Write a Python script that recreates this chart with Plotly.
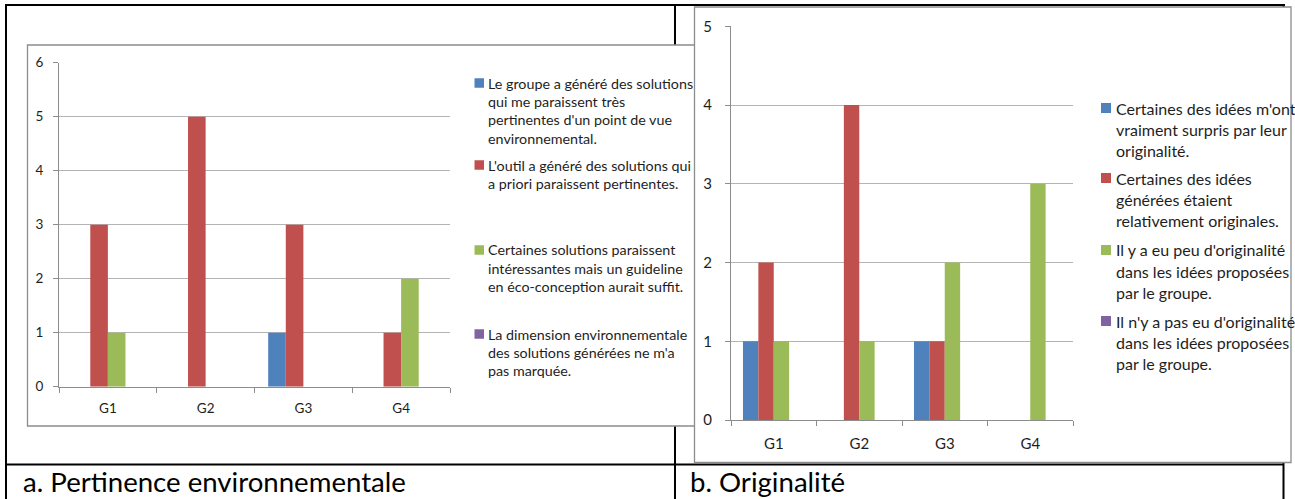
import plotly.graph_objects as go

W, H = 1295, 499

groups = ["G1", "G2", "G3", "G4"]
colors = ["#4F81BD", "#C0504D", "#9BBB59", "#8064A2"]

# Chart a. Pertinence environnementale
a_series1 = [0, 0, 1, 0]
a_series2 = [3, 5, 3, 1]
a_series3 = [1, 0, 0, 2]
a_series4 = [0, 0, 0, 0]
a_legend = [
    ["Le groupe a généré des solutions", "qui me paraissent très",
     "pertinentes d'un point de vue", "environnemental."],
    ["L'outil a généré des solutions qui", "a priori paraissent pertinentes."],
    ["Certaines solutions paraissent", "intéressantes mais un guideline",
     "en éco-conception aurait suffit."],
    ["La dimension environnementale", "des solutions générées ne m'a",
     "pas marquée."],
]
a_ticks = [0, 1, 2, 3, 4, 5, 6]

# Chart b. Originalité
b_series1 = [1, 0, 1, 0]
b_series2 = [2, 4, 1, 0]
b_series3 = [1, 1, 2, 3]
b_series4 = [0, 0, 0, 0]
b_legend = [
    ["Certaines des idées m'ont", "vraiment surpris par leur", "originalité."],
    ["Certaines des idées", "générées étaient", "relativement originales."],
    ["Il y a eu peu d'originalité", "dans les idées proposées", "par le groupe."],
    ["Il n'y a pas eu d'originalité", "dans les idées proposées", "par le groupe."],
]
b_ticks = [0, 1, 2, 3, 4, 5]

captions = ["a. Pertinence environnementale", "b. Originalité"]

FONT = "Lato, Calibri, Carlito, 'Open Sans', sans-serif"
GRID = "#B4B4B4"
AXIS = "#8C8C8C"
TXT = "#1E1E1E"


def fx(x):
    return x / W


def fy(y):
    return 1 - y / H


fig = go.Figure()
a_vals = [a_series1, a_series2, a_series3, a_series4]
b_vals = [b_series1, b_series2, b_series3, b_series4]
for i in range(4):
    fig.add_trace(go.Bar(x=groups, y=a_vals[i], marker_color=colors[i],
                         marker_line_width=0, name=a_legend[i][0],
                         xaxis="x", yaxis="y", showlegend=False))
for i in range(4):
    fig.add_trace(go.Bar(x=groups, y=b_vals[i], marker_color=colors[i],
                         marker_line_width=0, name=b_legend[i][0],
                         xaxis="x2", yaxis="y2", showlegend=False))

shapes = []
blk = dict(color="black", width=2)
# table lines
shapes.append(dict(type="line", xref="paper", yref="paper", x0=fx(5), x1=fx(1285), y0=fy(5), y1=fy(5), line=blk, layer="below"))
shapes.append(dict(type="line", xref="paper", yref="paper", x0=fx(6), x1=fx(6), y0=fy(5), y1=fy(499), line=blk, layer="below"))
shapes.append(dict(type="line", xref="paper", yref="paper", x0=fx(675), x1=fx(675), y0=fy(5), y1=fy(499), line=blk, layer="below"))
shapes.append(dict(type="line", xref="paper", yref="paper", x0=fx(5), x1=fx(1284), y0=fy(464.5), y1=fy(464.5), line=blk, layer="below"))
shapes.append(dict(type="line", xref="paper", yref="paper", x0=fx(1283.5), x1=fx(1283.5), y0=fy(5), y1=fy(499), line=blk, layer="below"))
# chart boxes
shapes.append(dict(type="rect", xref="paper", yref="paper", x0=fx(27.5), x1=fx(710), y0=fy(45), y1=fy(426),
                   line=dict(color="#8C8C8C", width=1.3), fillcolor="white", layer="below"))
shapes.append(dict(type="rect", xref="paper", yref="paper", x0=fx(694.5), x1=fx(1291), y0=fy(7), y1=fy(462.5),
                   line=dict(color="#8C8C8C", width=1.3), fillcolor="white", layer="below"))

annotations = []
# legends
def add_legend(items, x_marker, msize, x_text, first_centers, spacing, fsize):
    for i, lines in enumerate(items):
        c = first_centers[i]
        shapes.append(dict(type="rect", xref="paper", yref="paper",
                           x0=fx(x_marker), x1=fx(x_marker + msize),
                           y0=fy(c - msize / 2), y1=fy(c + msize / 2),
                           fillcolor=colors[i], line=dict(width=0), layer="above"))
        for j, t in enumerate(lines):
            annotations.append(dict(text=t, xref="paper", yref="paper",
                                    x=fx(x_text), y=fy(c + j * spacing),
                                    xanchor="left", yanchor="middle", showarrow=False,
                                    font=dict(family=FONT, size=fsize, color=TXT)))

add_legend(a_legend, 474.5, 9.5, 486, [83, 165, 250, 334], 18.4, 14.3)
add_legend(b_legend, 1101, 10, 1114, [108, 178, 250, 321], 21.3, 16)

annotations.append(dict(text=captions[0], xref="paper", yref="paper", x=fx(21), y=fy(481.5),
                        xanchor="left", yanchor="middle", showarrow=False,
                        font=dict(family=FONT, size=27.6, color="black")))
annotations.append(dict(text=captions[1], xref="paper", yref="paper", x=fx(688), y=fy(481.5),
                        xanchor="left", yanchor="middle", showarrow=False,
                        font=dict(family=FONT, size=27.6, color="black")))

common_x = dict(type="category", showgrid=False, showline=True, linecolor=AXIS, linewidth=1,
                ticks="outside", tickson="boundaries", ticklen=5, tickcolor=AXIS,
                zeroline=False, automargin=False)
common_y = dict(showgrid=True, gridcolor=GRID, gridwidth=1, showline=True, linecolor=AXIS,
                linewidth=1, ticks="outside", ticklen=5, tickcolor=AXIS, zeroline=False,
                automargin=False)

fig.update_layout(
    width=W, height=H, margin=dict(l=0, r=0, t=0, b=0, pad=0, autoexpand=False),
    paper_bgcolor="white", plot_bgcolor="rgba(0,0,0,0)",
    barmode="group", bargap=0.28, bargroupgap=0,
    showlegend=False,
    xaxis=dict(domain=[fx(59), fx(450)], anchor="y", ticklabelstandoff=9,
               tickfont=dict(family=FONT, size=13.5, color=TXT), **common_x),
    yaxis=dict(domain=[fy(386.7), fy(62.7)], anchor="x", range=[0, 6], tickvals=a_ticks,
               tickfont=dict(family=FONT, size=13.5, color=TXT), ticklabelstandoff=7, **common_y),
    xaxis2=dict(domain=[fx(731), fx(1073)], anchor="y2", ticklabelstandoff=10,
                tickfont=dict(family=FONT, size=15, color=TXT), **common_x),
    yaxis2=dict(domain=[fy(420), fy(26.3)], anchor="x2", range=[0, 5], tickvals=b_ticks,
                tickfont=dict(family=FONT, size=15, color=TXT), ticklabelstandoff=10, **common_y),
    shapes=shapes, annotations=annotations,
)

fig.write_html(
    "out.html",
    config={"displayModeBar": False},
    post_script="document.body.style.margin='0';document.body.style.overflow='hidden';"
                "document.documentElement.style.overflow='hidden';",
)
